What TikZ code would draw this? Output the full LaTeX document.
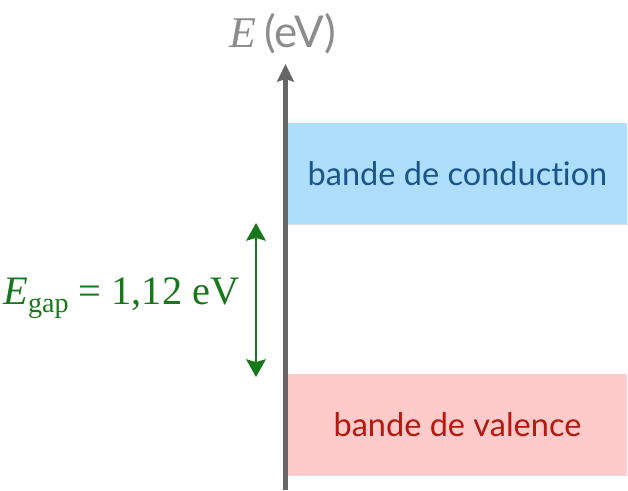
\documentclass[tikz,border=0pt]{standalone}
\usepackage{fontspec}
\usepackage{tikz}
\usetikzlibrary{arrows.meta,positioning}
\newfontfamily\bandfont[Ligatures=NoCommon]{Lato}
\newfontfamily\gapfont{Liberation Serif}
\definecolor{condfill}{HTML}{ADDEFB}
\definecolor{condtext}{HTML}{1B5488}
\definecolor{valfill}{HTML}{FFCACA}
\definecolor{valtext}{HTML}{B5180E}
\definecolor{gapgreen}{HTML}{17781A}
\definecolor{axisgray}{HTML}{666666}
\definecolor{labelgray}{HTML}{8C8C8C}

\begin{document}
\begin{tikzpicture}[
    x=0.02cm, y=-0.02cm,
    band/.style={inner sep=0pt, minimum width=6.8cm, minimum height=2.02cm, font=\bandfont\fontsize{18.5}{22}\selectfont},
    axis/.style={-{Stealth[length=10pt,width=9.5pt,inset=1.5pt]}, line width=2.3pt, draw=axisgray},
    gaparr/.style={{Stealth[length=10pt,width=11pt,inset=1.5pt]}-{Stealth[length=10pt,width=11pt,inset=1.5pt]}, line width=1.7pt, draw=gapgreen}
]
\useasboundingbox (0,0) rectangle (628,490);

% bandes
\node[band, fill=condfill, text=condtext] (cond) at (457.5,173.5) {bande de conduction};
\node[band, fill=valfill, text=valtext] (val) at (457.5,424.5) {bande de valence};
\draw[gray!25, line width=0.5pt] (cond.south west) -- (cond.south east);
\draw[gray!25, line width=0.5pt] (val.south west) -- (val.south east);

% axe des energies
\coordinate (axbot) at (285.5,490);
\coordinate (axtop) at (285.5,64);
\draw[axis] (axbot) -- (axtop);
\node[text=labelgray, font=\fontsize{25}{28}\selectfont] (elabel) at (283,34) {{\gapfont\itshape E}\,{\bandfont(eV)}};

% gap
\coordinate (gtop) at (256,223);
\coordinate (gbot) at (256,377);
\draw[gaparr] (gbot) -- (gtop);
\node[text=gapgreen, font=\gapfont\fontsize{23}{26}\selectfont, anchor=east, inner sep=0pt] (gaplabel) at (240,298) {{\itshape E}\raisebox{-0.45ex}{\fontsize{16}{19}\selectfont gap} = 1,12 eV};
\end{tikzpicture}
\end{document}
